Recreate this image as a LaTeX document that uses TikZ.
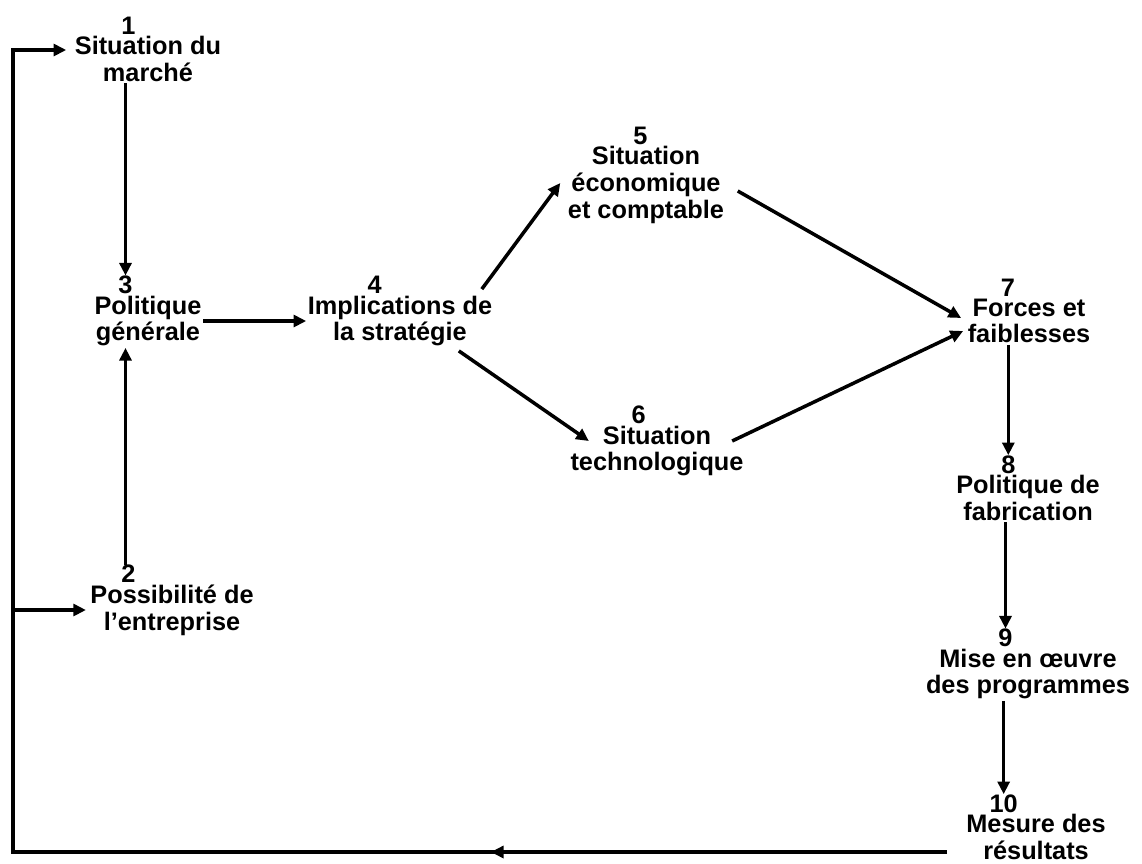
\documentclass[tikz,border=0pt]{standalone}
\usepackage{fontspec}
\setmainfont{Liberation Sans}
\usetikzlibrary{arrows.meta,positioning,decorations.markings}

\begin{document}
\begin{tikzpicture}[x=0.025cm, y=-0.025cm,
		stage/.style={align=center, inner sep=1pt, label distance=4pt, font=\bfseries\fontsize{18}{19}\selectfont},
		stagenum/.style={inner sep=0pt, xshift=#1, font=\bfseries\fontsize{18}{19}\selectfont},
		stagenum/.default=-16pt,
		link/.style={line width=2.5pt, -{Triangle[length=9pt,width=8.5pt]}},
		midarrow/.style={postaction={decorate}, decoration={markings, mark=at position #1 with {\arrow{Triangle[length=9pt,width=8.5pt]}}}}]
		\useasboundingbox (0,0) rectangle (1142,863);
		% stages
		\node at (148,59) [stage, label={[stagenum=-14pt, name=n1num]above:1}] (n1) {Situation du\\marché};
		\node at (172,610) [stage, label={[stagenum=-31pt, name=n2num]above:2}] (n2) {Possibilité de\\l'entreprise};
		\node at (148,321) [stage, label={[stagenum, name=n3num]above:3}] (n3) {Politique\\générale};
		\node at (400,321) [stage, label={[stagenum=-18pt, name=n4num]above:4}] (n4) {Implications de\\la stratégie};
		\node at (646,185) [stage, label={[stagenum=-4pt, name=n5num]above:5}] (n5) {Situation\\économique\\et comptable};
		\node at (657,451) [stage, label={[stagenum=-13pt, name=n6num]above:6}] (n6) {Situation\\technologique};
		\node at (1029,321) [stage, label={[stagenum=-15pt, name=n7num]above:7}] (n7) {Forces et\\faiblesses};
		\node at (1028,498) [stage, label={[stagenum=-14pt, name=n8num]above:8}] (n8) {Politique de\\fabrication};
		\node at (1028,674) [stage, label={[stagenum=-16pt, name=n9num]above:9}] (n9) {Mise en œuvre\\des programmes};
		\node at (1036,837) [stage, label={[stagenum=-23pt, name=n10num]above:10}] (n10) {Mesure des\\résultats};
		% links
		\draw[link] (n1.south -| n3num) -- (n3num.north);
		\draw[link] (n2num.north -| n3num) -- (n3.south -| n3num);
		\draw[link] (n3.east) -- (n4.west);
		\draw[link] ([shift={(-12,-5)}]n4.north east) -- ([shift={(-6,-2)}]n5.west);
		\draw[link] ([shift={(-35,3)}]n4.south east) -- ([shift={(20,-10)}]n6.west);
		\draw[link] ([shift={(12,6)}]n5.east) -- ([shift={(-5,-3)}]n7.west);
		\draw[link] ([shift={(-13,-10)}]n6.east) -- ([shift={(-3,10)}]n7.west);
		\draw[link] (n7.south -| n8num) -- (n8num.north);
		\draw[link] (n8.south -| n9num) -- (n9num.north);
		\draw[link] (n9.south -| n10num) -- (n10num.north);
		% feedback loop
		\coordinate (loopR) at (947,852);
		\coordinate (loopL) at (13,852);
		\draw[link, midarrow=11.4cm] (loopR) -- (loopL) |- ([shift={(-7,-9)}]n1.west);
		\draw[link] (loopL |- n2.west) -- ([xshift=-2pt]n2.west);
\end{tikzpicture}
\end{document}
